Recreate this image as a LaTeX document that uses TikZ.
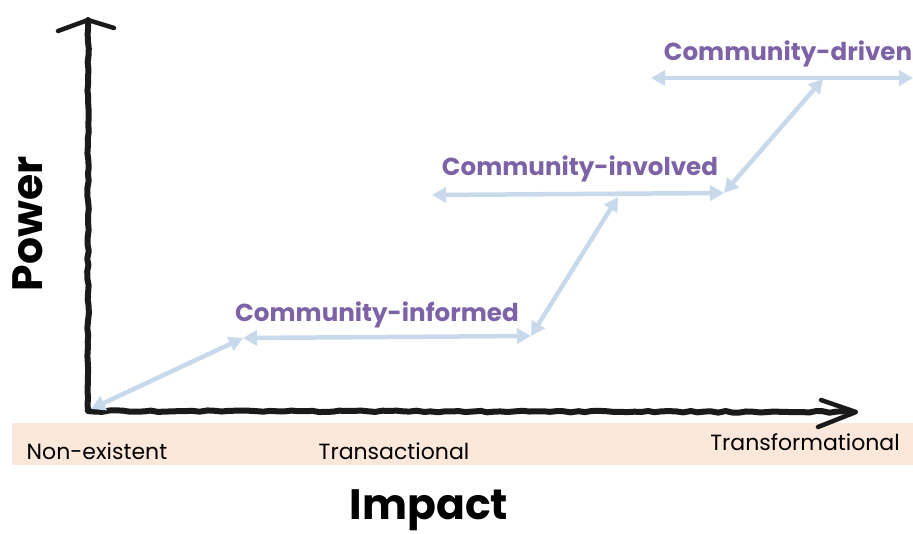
\documentclass[tikz,border=0pt]{standalone}
\usepackage{fontspec}
\setmainfont{Poppins}
\usetikzlibrary{arrows.meta,decorations.pathmorphing}
\definecolor{band}{HTML}{FCE8DA}
\definecolor{linkblue}{HTML}{C9D9EC}
\definecolor{stagepurple}{HTML}{7D62A6}
\definecolor{ink}{HTML}{1A1A1A}
\tikzset{
  axisstroke/.style={draw=ink, line width=6pt, line cap=round, line join=round,
    decorate, decoration={random steps, segment length=7pt, amplitude=0.8pt}},
  axishead/.style={draw=ink, line width=4.5pt, line cap=round, line join=round},
  link/.style={draw=linkblue, line width=4.5pt,
    {Triangle[length=14pt,width=15pt]}-{Triangle[length=14pt,width=15pt]}},
  stage/.style={text=stagepurple, font=\bfseries\fontsize{24.6}{28}\selectfont, inner sep=0pt},
  level/.style={text=black, font=\fontsize{22}{24}\selectfont, inner sep=0pt},
  axistitle/.style={text=black, font=\bfseries\fontsize{42.5}{46}\selectfont, inner sep=0pt}
}
\begin{document}
\begin{tikzpicture}[x=1pt,y=-1pt]
\useasboundingbox (0,0) rectangle (913,533);
\pgfmathsetseed{7}
% impact band
\fill[band] (12,423) rectangle (913,465);
\node[level] (none) at (97,451) {Non-existent};
\node[level] (trans) at (394,451) {Transactional};
\node[level] (transf) at (805,442) {Transformational};
% axes
\coordinate (ytop) at (88,20);
\coordinate (origin) at (88,411);
\coordinate (xend) at (852,412);
\draw[axisstroke] (ytop) -- (origin) -- (xend);
\draw[axishead] (58,31) -- (ytop) -- (114,28);
\draw[axishead] (821,400) -- ([xshift=4pt]xend) -- (818,427);
\node[axistitle] (impact) at (429,510) {Impact};
\node[axistitle, rotate=90] (power) at (28,224) {Power};
% stages
\node[stage] (informed) at (377,315) {Community-informed};
\node[stage] (involved) at (580,169) {Community-involved};
\node[stage] (driven) at (788,54) {Community-driven};
% path between stages
\coordinate (p0) at (91,409);
\coordinate (p1) at (243,338);
\coordinate (p2) at (531,336);
\coordinate (p3) at (618,197);
\coordinate (q1) at (432,195);
\coordinate (p4) at (724,193);
\coordinate (p5) at (823,79);
\coordinate (q2) at (651,78);
\coordinate (q3) at (913,78);
\draw[link] (p0) -- (p1);
\draw[link] (p1) -- (p2);
\draw[link] (p2) -- (p3);
\draw[link] (q1) -- (p4);
\draw[link] (p4) -- (p5);
\draw[link] (q2) -- (q3);
\end{tikzpicture}
\end{document}
